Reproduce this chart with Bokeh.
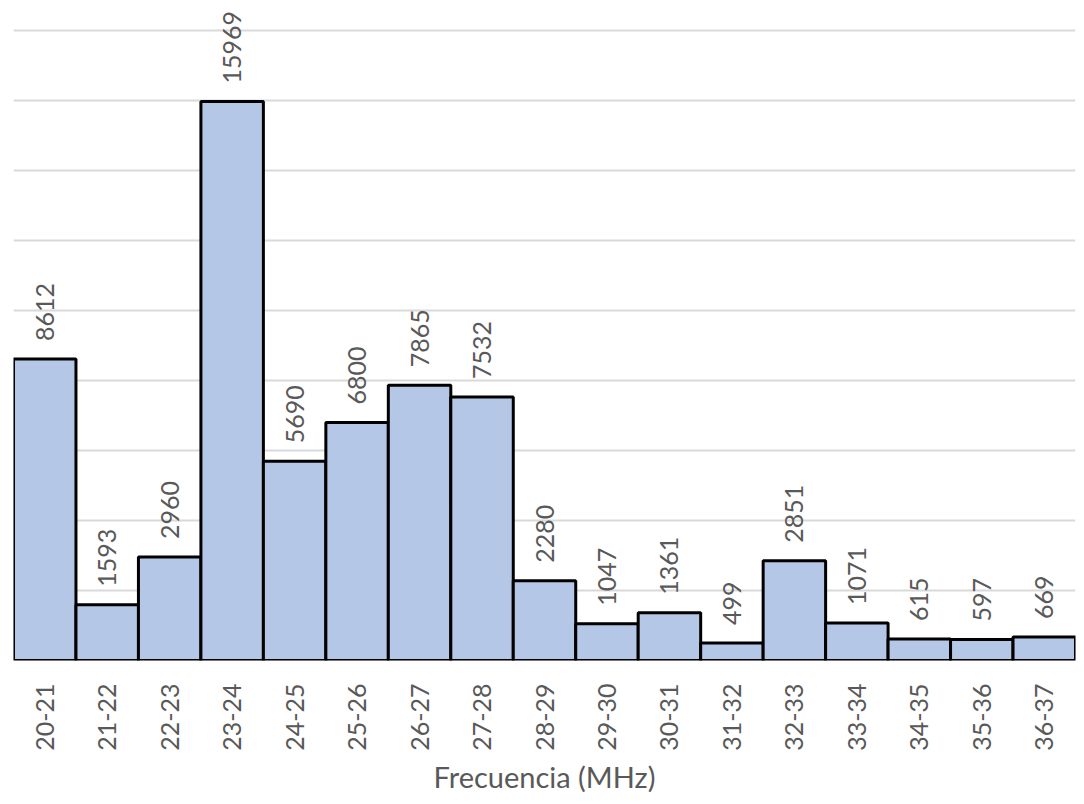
from math import pi

from bokeh.core.properties import value
from bokeh.embed import file_html
from bokeh.models import ColumnDataSource, FixedTicker
from bokeh.plotting import figure
from bokeh.resources import INLINE

bandas = ["20-21", "21-22", "22-23", "23-24", "24-25", "25-26", "26-27", "27-28", "28-29",
          "29-30", "30-31", "31-32", "32-33", "33-34", "34-35", "35-36", "36-37"]
cuentas = [8612, 1593, 2960, 15969, 5690, 6800, 7865, 7532, 2280,
           1047, 1361, 499, 2851, 1071, 615, 597, 669]
marcas_y = [0, 2000, 4000, 6000, 8000, 10000, 12000, 14000, 16000, 18000]

src = ColumnDataSource(dict(banda=bandas, n=cuentas, txt=[str(c) for c in cuentas]))

# extra room above 18000 so the tallest label is not clipped
p = figure(x_range=bandas, y_range=(0, 18000 * 660 / 630), width=1076, height=804,
           output_backend="svg", toolbar_location=None, y_axis_location=None,
           min_border_left=13, min_border_right=1, min_border_top=0, min_border_bottom=144)
p.x_range.range_padding = 0
p.outline_line_color = None

p.vbar(x="banda", top="n", width=1, source=src, fill_color="#B4C7E7",
       line_color="black", line_width=3)
p.text(x="banda", y="n", text="txt", source=src, angle=pi / 2, y_offset=-18,
       text_align="left", text_baseline="middle", text_color="#595959",
       text_font=value("Lato"), text_font_size="25px")

p.ygrid.ticker = FixedTicker(ticks=marcas_y)
p.ygrid.grid_line_color = "#D9D9D9"
p.ygrid.grid_line_width = 2
p.xgrid.grid_line_color = None
p.ygrid.level = "underlay"

ax = p.xaxis[0]
ax.axis_line_color = None
ax.major_tick_line_color = None
ax.minor_tick_line_color = None
ax.major_label_orientation = pi / 2
ax.major_label_standoff = 17
ax.major_label_text_font = "Lato"
ax.major_label_text_font_size = "25px"
ax.major_label_text_color = "#595959"
ax.axis_label = "Frecuencia (MHz)"
ax.axis_label_text_font = "Lato"
ax.axis_label_text_font_size = "29px"
ax.axis_label_text_font_style = "normal"
ax.axis_label_text_color = "#595959"
ax.axis_label_standoff = 5

open("out.html", "w").write(file_html(p, INLINE))
